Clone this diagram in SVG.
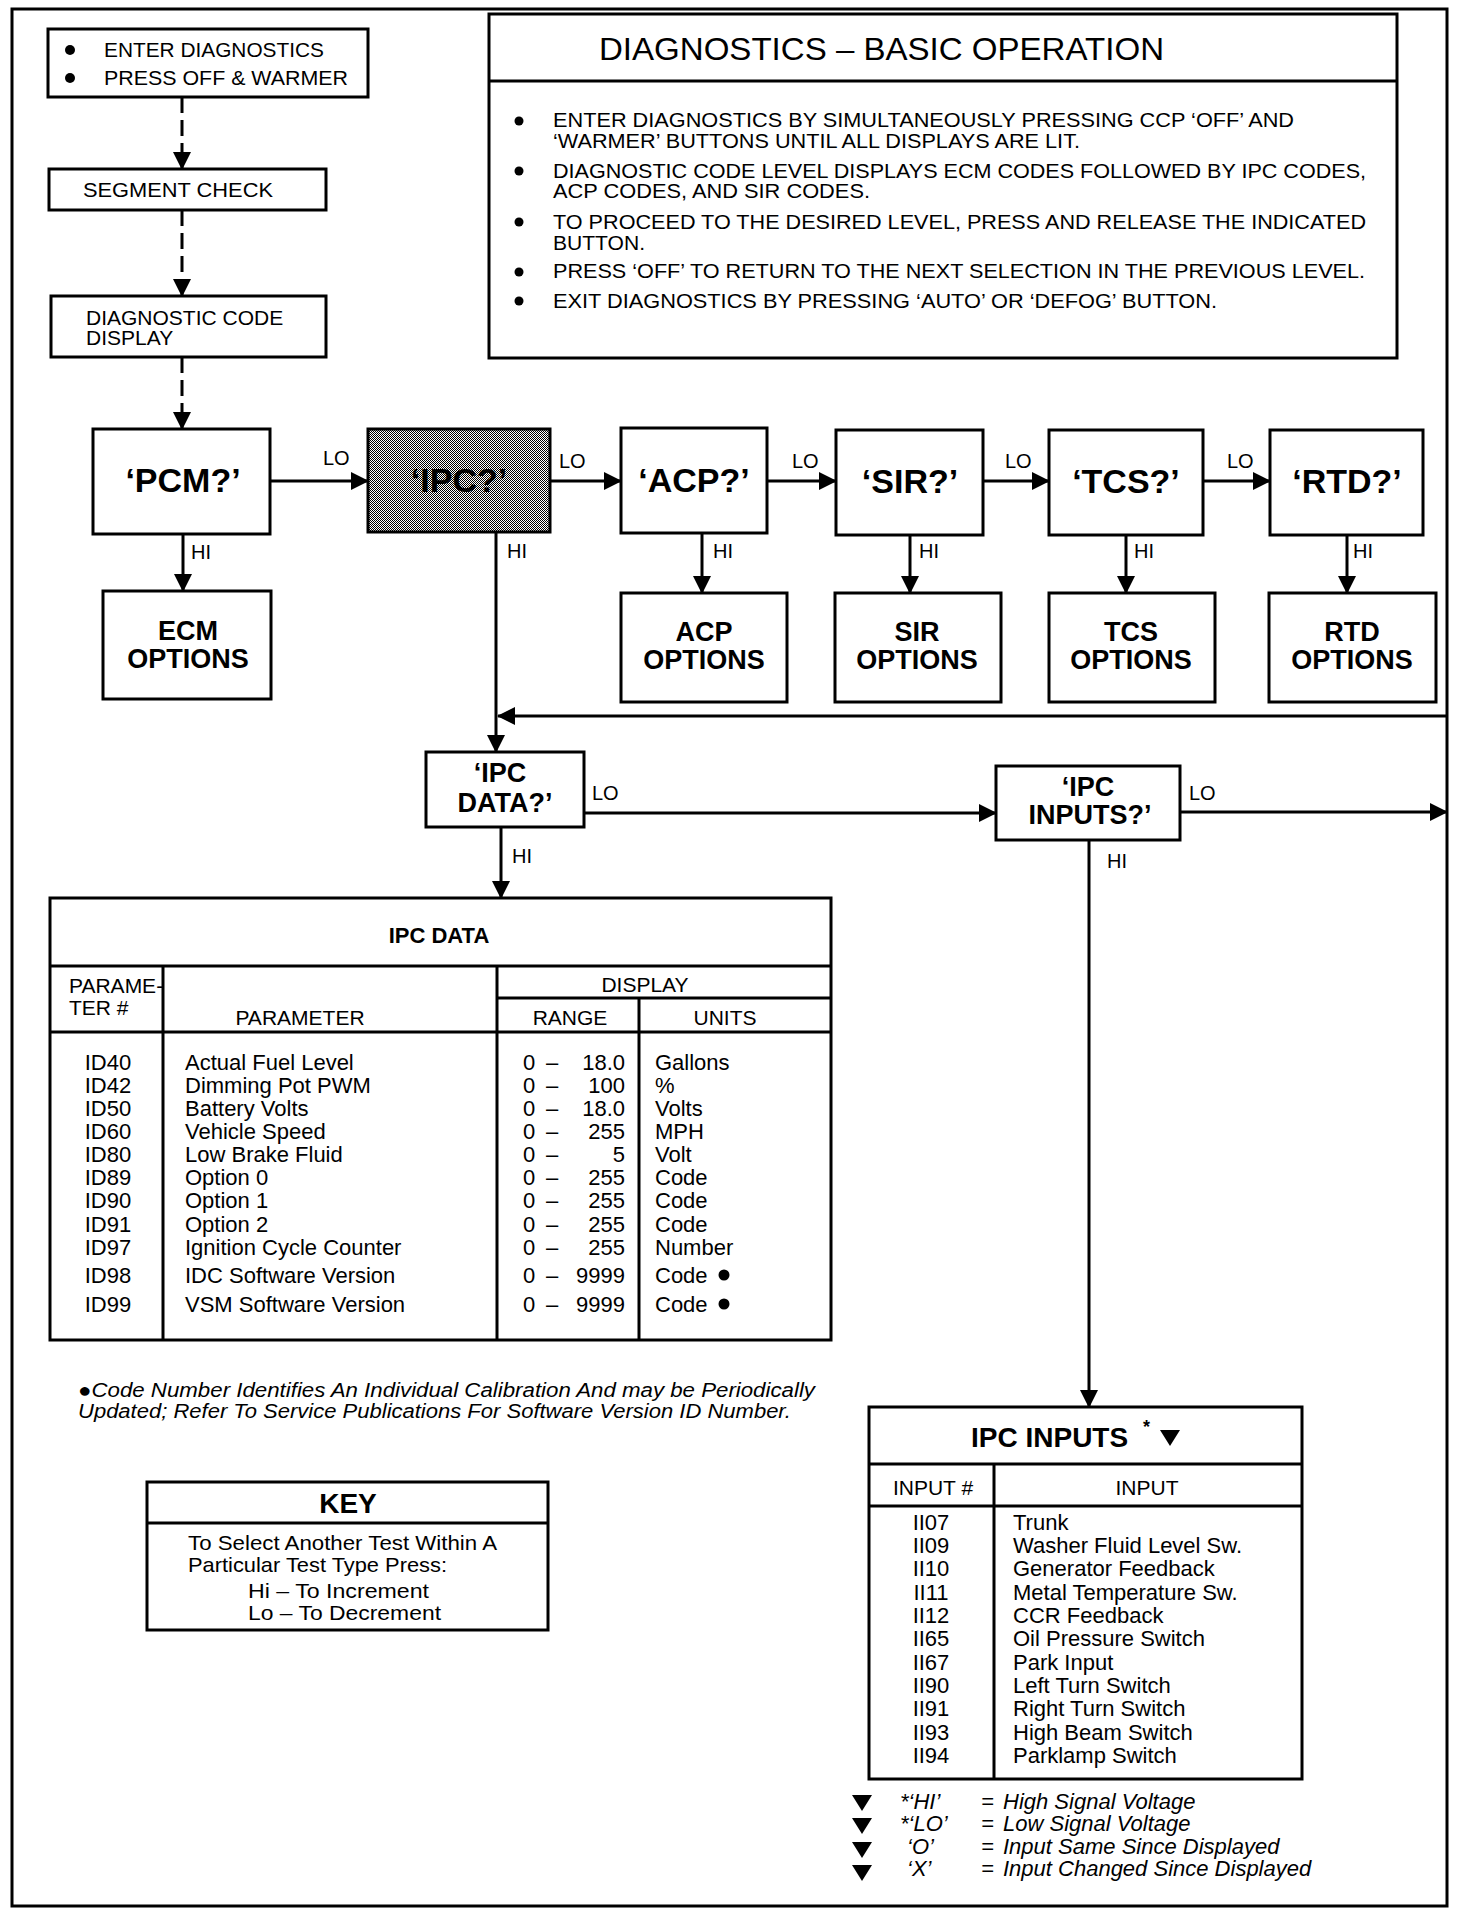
<svg xmlns="http://www.w3.org/2000/svg" width="1472" height="1916" viewBox="0 0 1472 1916">
<style>
.box{fill:#fff;stroke:#000;stroke-width:3}
.ln{fill:none;stroke:#000;stroke-width:3}
.dash{stroke-dasharray:16 7}
text{font-family:"Liberation Sans",Arial,Helvetica,sans-serif;fill:#000}
.b{font-weight:bold}
.i{font-style:italic}
.s20{font-size:20px}
.s21{font-size:21px}
.s22{font-size:22px}
.q{font-size:34px;font-weight:bold;text-anchor:middle}
.o{font-size:27px;font-weight:bold;text-anchor:middle}
.m{text-anchor:middle}
.e{text-anchor:end}
</style>
<defs>
<marker id="ah" markerUnits="userSpaceOnUse" markerWidth="18" markerHeight="18" refX="17" refY="9" orient="auto">
<path d="M0,0 L18,9 L0,18 Z" fill="#000"/>
</marker>
<pattern id="ht" width="2" height="2" patternUnits="userSpaceOnUse">
<rect width="2" height="2" fill="#fff"/>
<rect width="1" height="1" fill="#000"/>
<rect x="1" y="1" width="1" height="1" fill="#000"/>
</pattern>
</defs>
<rect width="1472" height="1916" fill="#fff"/>
<rect id="frame" x="12" y="9" width="1435" height="1897" fill="none" stroke="#000" stroke-width="3"/>

<g id="connectors">
<line class="ln dash" x1="182" y1="97" x2="182" y2="169" marker-end="url(#ah)"/>
<line class="ln dash" x1="182" y1="210" x2="182" y2="296" marker-end="url(#ah)"/>
<line class="ln dash" x1="182" y1="357" x2="182" y2="429" marker-end="url(#ah)"/>
<line class="ln" x1="270" y1="481" x2="368" y2="481" marker-end="url(#ah)"/>
<line class="ln" x1="550" y1="481" x2="621" y2="481" marker-end="url(#ah)"/>
<line class="ln" x1="767" y1="481" x2="836" y2="481" marker-end="url(#ah)"/>
<line class="ln" x1="983" y1="481" x2="1049" y2="481" marker-end="url(#ah)"/>
<line class="ln" x1="1203" y1="481" x2="1270" y2="481" marker-end="url(#ah)"/>
<line class="ln" x1="183" y1="534" x2="183" y2="591" marker-end="url(#ah)"/>
<line class="ln" x1="702" y1="533" x2="702" y2="593" marker-end="url(#ah)"/>
<line class="ln" x1="910" y1="535" x2="910" y2="593" marker-end="url(#ah)"/>
<line class="ln" x1="1126" y1="535" x2="1126" y2="593" marker-end="url(#ah)"/>
<line class="ln" x1="1347" y1="535" x2="1347" y2="593" marker-end="url(#ah)"/>
<line class="ln" x1="496" y1="532" x2="496" y2="752" marker-end="url(#ah)"/>
<line class="ln" x1="1447" y1="716" x2="498" y2="716" marker-end="url(#ah)"/>
<line class="ln" x1="584" y1="813" x2="996" y2="813" marker-end="url(#ah)"/>
<line class="ln" x1="501" y1="827" x2="501" y2="898" marker-end="url(#ah)"/>
<line class="ln" x1="1180" y1="812" x2="1447" y2="812" marker-end="url(#ah)"/>
<line class="ln" x1="1089" y1="840" x2="1089" y2="1407" marker-end="url(#ah)"/>
<text class="s20" x="323" y="465">LO</text>
<text class="s20" x="559" y="468">LO</text>
<text class="s20" x="792" y="468">LO</text>
<text class="s20" x="1005" y="468">LO</text>
<text class="s20" x="1227" y="468">LO</text>
<text class="s20" x="191" y="559">HI</text>
<text class="s20" x="507" y="558">HI</text>
<text class="s20" x="713" y="558">HI</text>
<text class="s20" x="919" y="558">HI</text>
<text class="s20" x="1134" y="558">HI</text>
<text class="s20" x="1353" y="558">HI</text>
<text class="s20" x="592" y="800">LO</text>
<text class="s20" x="512" y="863">HI</text>
<text class="s20" x="1189" y="800">LO</text>
<text class="s20" x="1107" y="868">HI</text>
</g>

<g id="enter">
<rect class="box" x="48" y="29" width="320" height="68"/>
<circle cx="70" cy="50" r="5"/>
<circle cx="70" cy="78" r="5"/>
<text class="s21" x="104" y="57" textLength="220" lengthAdjust="spacingAndGlyphs">ENTER DIAGNOSTICS</text>
<text class="s21" x="104" y="85" textLength="244" lengthAdjust="spacingAndGlyphs">PRESS OFF &amp; WARMER</text>
</g>
<g id="segment">
<rect class="box" x="49" y="169" width="277" height="41"/>
<text class="s21" x="83" y="197" textLength="190" lengthAdjust="spacingAndGlyphs">SEGMENT CHECK</text>
</g>
<g id="codedisplay">
<rect class="box" x="51" y="296" width="275" height="61"/>
<text class="s21" x="86" y="325">DIAGNOSTIC CODE</text>
<text class="s21" x="86" y="345">DISPLAY</text>
</g>

<g id="basicop">
<rect class="box" x="489" y="14" width="908" height="344"/>
<line class="ln" x1="489" y1="81" x2="1397" y2="81"/>
<text x="599" y="60" font-size="32" textLength="565" lengthAdjust="spacingAndGlyphs">DIAGNOSTICS – BASIC OPERATION</text>
<circle cx="519" cy="121" r="4.5"/>
<circle cx="519" cy="171" r="4.5"/>
<circle cx="519" cy="222" r="4.5"/>
<circle cx="519" cy="272" r="4.5"/>
<circle cx="519" cy="301" r="4.5"/>
<text class="s20" x="553" y="127" textLength="741" lengthAdjust="spacingAndGlyphs">ENTER DIAGNOSTICS BY SIMULTANEOUSLY PRESSING CCP ‘OFF’ AND</text>
<text class="s20" x="553" y="148" textLength="527" lengthAdjust="spacingAndGlyphs">‘WARMER’ BUTTONS UNTIL ALL DISPLAYS ARE LIT.</text>
<text class="s20" x="553" y="178" textLength="813" lengthAdjust="spacingAndGlyphs">DIAGNOSTIC CODE LEVEL DISPLAYS ECM CODES FOLLOWED BY IPC CODES,</text>
<text class="s20" x="553" y="198" textLength="317" lengthAdjust="spacingAndGlyphs">ACP CODES, AND SIR CODES.</text>
<text class="s20" x="553" y="229" textLength="813" lengthAdjust="spacingAndGlyphs">TO PROCEED TO THE DESIRED LEVEL, PRESS AND RELEASE THE INDICATED</text>
<text class="s20" x="553" y="250" textLength="92" lengthAdjust="spacingAndGlyphs">BUTTON.</text>
<text class="s20" x="553" y="278" textLength="812" lengthAdjust="spacingAndGlyphs">PRESS ‘OFF’ TO RETURN TO THE NEXT SELECTION IN THE PREVIOUS LEVEL.</text>
<text class="s20" x="553" y="308" textLength="664" lengthAdjust="spacingAndGlyphs">EXIT DIAGNOSTICS BY PRESSING ‘AUTO’ OR ‘DEFOG’ BUTTON.</text>
</g>

<g id="pcm">
<rect class="box" x="93" y="429" width="177" height="105"/>
<text class="q" x="183" y="492">‘PCM?’</text>
</g>
<g id="ipc">
<rect x="368" y="429" width="182" height="103" fill="url(#ht)" stroke="#000" stroke-width="3"/>
<text class="q" x="459" y="492">‘IPC?’</text>
</g>
<g id="acp">
<rect class="box" x="621" y="428" width="146" height="105"/>
<text class="q" x="694" y="492">‘ACP?’</text>
</g>
<g id="sir">
<rect class="box" x="836" y="430" width="147" height="105"/>
<text class="q" x="910" y="493">‘SIR?’</text>
</g>
<g id="tcs">
<rect class="box" x="1049" y="430" width="154" height="105"/>
<text class="q" x="1126" y="493">‘TCS?’</text>
</g>
<g id="rtd">
<rect class="box" x="1270" y="430" width="153" height="105"/>
<text class="q" x="1347" y="493">‘RTD?’</text>
</g>

<g id="ecmopt">
<rect class="box" x="103" y="591" width="168" height="108"/>
<text class="o" x="188" y="640">ECM</text>
<text class="o" x="188" y="668">OPTIONS</text>
</g>
<g id="acpopt">
<rect class="box" x="621" y="593" width="166" height="109"/>
<text class="o" x="704" y="641">ACP</text>
<text class="o" x="704" y="669">OPTIONS</text>
</g>
<g id="siropt">
<rect class="box" x="835" y="593" width="166" height="109"/>
<text class="o" x="917" y="641">SIR</text>
<text class="o" x="917" y="669">OPTIONS</text>
</g>
<g id="tcsopt">
<rect class="box" x="1049" y="593" width="166" height="109"/>
<text class="o" x="1131" y="641">TCS</text>
<text class="o" x="1131" y="669">OPTIONS</text>
</g>
<g id="rtdopt">
<rect class="box" x="1269" y="593" width="167" height="109"/>
<text class="o" x="1352" y="641">RTD</text>
<text class="o" x="1352" y="669">OPTIONS</text>
</g>

<g id="ipcdataq">
<rect class="box" x="426" y="752" width="158" height="75"/>
<text class="o" x="500" y="782">‘IPC</text>
<text class="o" x="505" y="812">DATA?’</text>
</g>
<g id="ipcinputsq">
<rect class="box" x="996" y="766" width="184" height="74"/>
<text class="o" x="1088" y="796">‘IPC</text>
<text class="o" x="1090" y="824">INPUTS?’</text>
</g>

<g id="ipcdata">
<rect class="box" x="50" y="898" width="781" height="442"/>
<line class="ln" x1="50" y1="966" x2="831" y2="966"/>
<line class="ln" x1="497" y1="998" x2="831" y2="998"/>
<line class="ln" x1="50" y1="1032" x2="831" y2="1032"/>
<line class="ln" x1="163" y1="966" x2="163" y2="1340"/>
<line class="ln" x1="497" y1="966" x2="497" y2="1340"/>
<line class="ln" x1="639" y1="998" x2="639" y2="1340"/>
<text class="s22 b m" x="439" y="943">IPC DATA</text>
<text class="s21" x="69" y="993">PARAME-</text>
<text class="s21" x="69" y="1015">TER #</text>
<text class="s21 m" x="300" y="1025">PARAMETER</text>
<text class="s21 m" x="645" y="992">DISPLAY</text>
<text class="s21 m" x="570" y="1025">RANGE</text>
<text class="s21 m" x="725" y="1025">UNITS</text>
<g class="s22">
<text class="m" x="108" y="1070">ID40</text>
<text class="m" x="108" y="1093">ID42</text>
<text class="m" x="108" y="1116">ID50</text>
<text class="m" x="108" y="1139">ID60</text>
<text class="m" x="108" y="1162">ID80</text>
<text class="m" x="108" y="1185">ID89</text>
<text class="m" x="108" y="1208">ID90</text>
<text class="m" x="108" y="1232">ID91</text>
<text class="m" x="108" y="1255">ID97</text>
<text class="m" x="108" y="1283">ID98</text>
<text class="m" x="108" y="1312">ID99</text>
<text x="185" y="1070">Actual Fuel Level</text>
<text x="185" y="1093">Dimming Pot PWM</text>
<text x="185" y="1116">Battery Volts</text>
<text x="185" y="1139">Vehicle Speed</text>
<text x="185" y="1162">Low Brake Fluid</text>
<text x="185" y="1185">Option 0</text>
<text x="185" y="1208">Option 1</text>
<text x="185" y="1232">Option 2</text>
<text x="185" y="1255">Ignition Cycle Counter</text>
<text x="185" y="1283">IDC Software Version</text>
<text x="185" y="1312">VSM Software Version</text>
<text x="523" y="1070">0</text>
<text x="523" y="1093">0</text>
<text x="523" y="1116">0</text>
<text x="523" y="1139">0</text>
<text x="523" y="1162">0</text>
<text x="523" y="1185">0</text>
<text x="523" y="1208">0</text>
<text x="523" y="1232">0</text>
<text x="523" y="1255">0</text>
<text x="523" y="1283">0</text>
<text x="523" y="1312">0</text>
<text x="546" y="1070">–</text>
<text x="546" y="1093">–</text>
<text x="546" y="1116">–</text>
<text x="546" y="1139">–</text>
<text x="546" y="1162">–</text>
<text x="546" y="1185">–</text>
<text x="546" y="1208">–</text>
<text x="546" y="1232">–</text>
<text x="546" y="1255">–</text>
<text x="546" y="1283">–</text>
<text x="546" y="1312">–</text>
<text class="e" x="625" y="1070">18.0</text>
<text class="e" x="625" y="1093">100</text>
<text class="e" x="625" y="1116">18.0</text>
<text class="e" x="625" y="1139">255</text>
<text class="e" x="625" y="1162">5</text>
<text class="e" x="625" y="1185">255</text>
<text class="e" x="625" y="1208">255</text>
<text class="e" x="625" y="1232">255</text>
<text class="e" x="625" y="1255">255</text>
<text class="e" x="625" y="1283">9999</text>
<text class="e" x="625" y="1312">9999</text>
<text x="655" y="1070">Gallons</text>
<text x="655" y="1093">%</text>
<text x="655" y="1116">Volts</text>
<text x="655" y="1139">MPH</text>
<text x="655" y="1162">Volt</text>
<text x="655" y="1185">Code</text>
<text x="655" y="1208">Code</text>
<text x="655" y="1232">Code</text>
<text x="655" y="1255">Number</text>
<text x="655" y="1283">Code</text>
<text x="655" y="1312">Code</text>
</g>
<circle cx="724" cy="1275" r="5.5"/>
<circle cx="724" cy="1304" r="5.5"/>
</g>

<g id="footnote">
<text class="s20 i" x="78" y="1397" textLength="737" lengthAdjust="spacingAndGlyphs">●Code Number Identifies An Individual Calibration And may be Periodically</text>
<text class="s20 i" x="78" y="1418" textLength="713" lengthAdjust="spacingAndGlyphs">Updated; Refer To Service Publications For  Software Version ID Number.</text>
</g>

<g id="key">
<rect class="box" x="147" y="1482" width="401" height="148"/>
<line class="ln" x1="147" y1="1523" x2="548" y2="1523"/>
<text class="b m" font-size="28" x="348" y="1513">KEY</text>
<text class="s21" x="188" y="1550" textLength="309" lengthAdjust="spacingAndGlyphs">To Select Another Test Within A</text>
<text class="s21" x="188" y="1572" textLength="259" lengthAdjust="spacingAndGlyphs">Particular Test Type Press:</text>
<text class="s21" x="248" y="1598" textLength="181" lengthAdjust="spacingAndGlyphs">Hi  –  To Increment</text>
<text class="s21" x="248" y="1620" textLength="193" lengthAdjust="spacingAndGlyphs">Lo  –  To Decrement</text>
</g>

<g id="ipcinputs">
<rect class="box" x="869" y="1407" width="433" height="372"/>
<line class="ln" x1="869" y1="1464" x2="1302" y2="1464"/>
<line class="ln" x1="869" y1="1506" x2="1302" y2="1506"/>
<line class="ln" x1="994" y1="1464" x2="994" y2="1779"/>
<text class="b" font-size="28" x="971" y="1447">IPC INPUTS</text>
<text class="b" font-size="18" x="1143" y="1433">*</text>
<path d="M1160,1430 L1180,1430 L1170,1446 Z"/>
<text class="s21 m" x="933" y="1495">INPUT #</text>
<text class="s21 m" x="1147" y="1495">INPUT</text>
<g class="s22">
<text class="m" x="931" y="1530">II07</text>
<text class="m" x="931" y="1553">II09</text>
<text class="m" x="931" y="1576">II10</text>
<text class="m" x="931" y="1600">II11</text>
<text class="m" x="931" y="1623">II12</text>
<text class="m" x="931" y="1646">II65</text>
<text class="m" x="931" y="1670">II67</text>
<text class="m" x="931" y="1693">II90</text>
<text class="m" x="931" y="1716">II91</text>
<text class="m" x="931" y="1740">II93</text>
<text class="m" x="931" y="1763">II94</text>
<text x="1013" y="1530">Trunk</text>
<text x="1013" y="1553">Washer Fluid Level Sw.</text>
<text x="1013" y="1576">Generator Feedback</text>
<text x="1013" y="1600">Metal Temperature Sw.</text>
<text x="1013" y="1623">CCR Feedback</text>
<text x="1013" y="1646">Oil Pressure Switch</text>
<text x="1013" y="1670">Park Input</text>
<text x="1013" y="1693">Left Turn Switch</text>
<text x="1013" y="1716">Right Turn Switch</text>
<text x="1013" y="1740">High Beam Switch</text>
<text x="1013" y="1763">Parklamp Switch</text>
</g>
</g>

<g id="legend">
<path d="M852,1795 L872,1795 L862,1811 Z"/>
<path d="M852,1818 L872,1818 L862,1834 Z"/>
<path d="M852,1842 L872,1842 L862,1858 Z"/>
<path d="M852,1865 L872,1865 L862,1881 Z"/>
<g class="s22 i">
<text x="900" y="1809">*‘HI’</text>
<text x="900" y="1831">*‘LO’</text>
<text x="907" y="1854">‘O’</text>
<text x="907" y="1876">‘X’</text>
<text x="981" y="1809">=</text>
<text x="981" y="1831">=</text>
<text x="981" y="1854">=</text>
<text x="981" y="1876">=</text>
<text x="1003" y="1809">High Signal Voltage</text>
<text x="1003" y="1831">Low Signal Voltage</text>
<text x="1003" y="1854">Input Same Since Displayed</text>
<text x="1003" y="1876">Input Changed Since Displayed</text>
</g>
</g>
</svg>
